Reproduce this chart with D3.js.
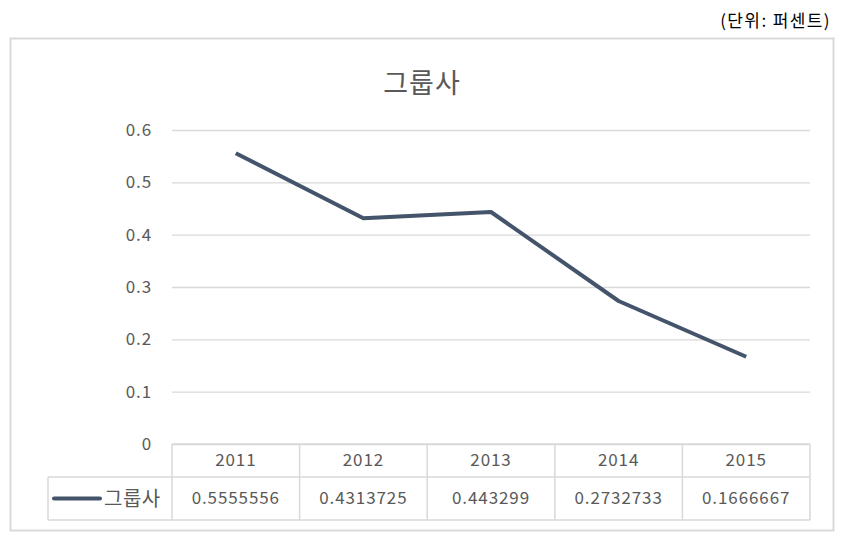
<!DOCTYPE html>
<html><head><meta charset="utf-8">
<script src="https://cdn.jsdelivr.net/npm/d3@7"></script>
<style>
html,body{margin:0;padding:0;background:#fff;}
svg text{font-family:"Noto Sans CJK KR","Noto Sans",sans-serif;}
</style></head>
<body>
<svg id="c" width="866" height="550"></svg>
<script>
const categories = ["2011","2012","2013","2014","2015"];
const seriesName = "그룹사";
const values = [0.5555556, 0.4313725, 0.443299, 0.2732733, 0.1666667];
const valueLabels = ["0.5555556","0.4313725","0.443299","0.2732733","0.1666667"];
const yTicks = [0, 0.1, 0.2, 0.3, 0.4, 0.5, 0.6];
const unitLabel = "(단위: 퍼센트)";
const title = "그룹사";

const svg = d3.select("#c");
const textColor = "#595959", gridColor = "#d9d9d9", lineColor = "#44546a";
const plot = {left:172, right:810, top:130, bottom:444};
const numFont = 17, numSpacing = 0.9;

// unit label
svg.append("text").attr("x",831).attr("y",27).attr("text-anchor","end")
  .attr("font-size",17).attr("letter-spacing",1.4).attr("fill","#000").text(unitLabel);

// outer frame
svg.append("rect").attr("x",10.5).attr("y",38.5).attr("width",823).attr("height",492)
  .attr("fill","#fff").attr("stroke",gridColor).attr("stroke-width",2);

// title
svg.append("text").attr("x",422).attr("y",93).attr("text-anchor","middle")
  .attr("font-size",27).attr("letter-spacing",1).attr("fill",textColor).text(title);

const x = d3.scaleBand().domain(categories).range([plot.left, plot.right]);
const y = d3.scaleLinear().domain([0,0.6]).range([plot.bottom, plot.top]);

// y axis with gridlines
const yAxis = d3.axisLeft(y).tickValues(yTicks).tickFormat(d3.format("")).tickSize(-(plot.right-plot.left)).tickPadding(20);
const ga = svg.append("g").attr("transform",`translate(${plot.left},0)`).call(yAxis);
ga.select(".domain").remove();
ga.selectAll(".tick line").attr("stroke",gridColor).attr("stroke-width",1.3);
ga.selectAll(".tick text").attr("fill",textColor).attr("font-size",numFont).attr("letter-spacing",numSpacing)
  .attr("font-family",'"Noto Sans CJK KR",sans-serif');

// line
svg.append("path").datum(values)
  .attr("fill","none").attr("stroke",lineColor).attr("stroke-width",4).attr("stroke-linejoin","round")
  .attr("d", d3.line().x((d,i)=>x(categories[i])+x.bandwidth()/2).y(d=>y(d)));

// data table
const tbl = svg.append("g");
const tableLeft = 48;
const hTop = plot.bottom, hBot = plot.bottom+33, dBot = plot.bottom+76;
const tl = (x1,y1,x2,y2)=>tbl.append("line").attr("x1",x1).attr("y1",y1).attr("x2",x2).attr("y2",y2)
  .attr("stroke",gridColor).attr("stroke-width",1.5);
tl(plot.left,hTop,plot.right,hTop);
tl(tableLeft,hBot,plot.right,hBot);
tl(tableLeft,dBot,plot.right,dBot);
tl(tableLeft,hBot,tableLeft,dBot);
categories.forEach(c=>{ tl(x(c),hTop,x(c),dBot); });
tl(plot.right,hTop,plot.right,dBot);

tbl.selectAll("text.h").data(categories).join("text").attr("class","h")
  .attr("x",d=>x(d)+x.bandwidth()/2).attr("y",(hTop+hBot)/2).attr("dy","0.35em")
  .attr("text-anchor","middle").attr("font-size",numFont).attr("letter-spacing",numSpacing)
  .attr("fill",textColor).text(d=>d);
tbl.selectAll("text.v").data(valueLabels).join("text").attr("class","v")
  .attr("x",(d,i)=>x(categories[i])+x.bandwidth()/2).attr("y",(hBot+dBot)/2).attr("dy","0.35em")
  .attr("text-anchor","middle").attr("font-size",numFont).attr("letter-spacing",numSpacing)
  .attr("fill",textColor).text(d=>d);

// legend key
tbl.append("line").attr("x1",54).attr("x2",100).attr("y1",(hBot+dBot)/2).attr("y2",(hBot+dBot)/2)
  .attr("stroke",lineColor).attr("stroke-width",4).attr("stroke-linecap","round");
tbl.append("text").attr("x",104).attr("y",(hBot+dBot)/2).attr("dy","0.35em")
  .attr("font-size",20).attr("letter-spacing",0.5).attr("fill",textColor).text(seriesName);
</script>
</body></html>
